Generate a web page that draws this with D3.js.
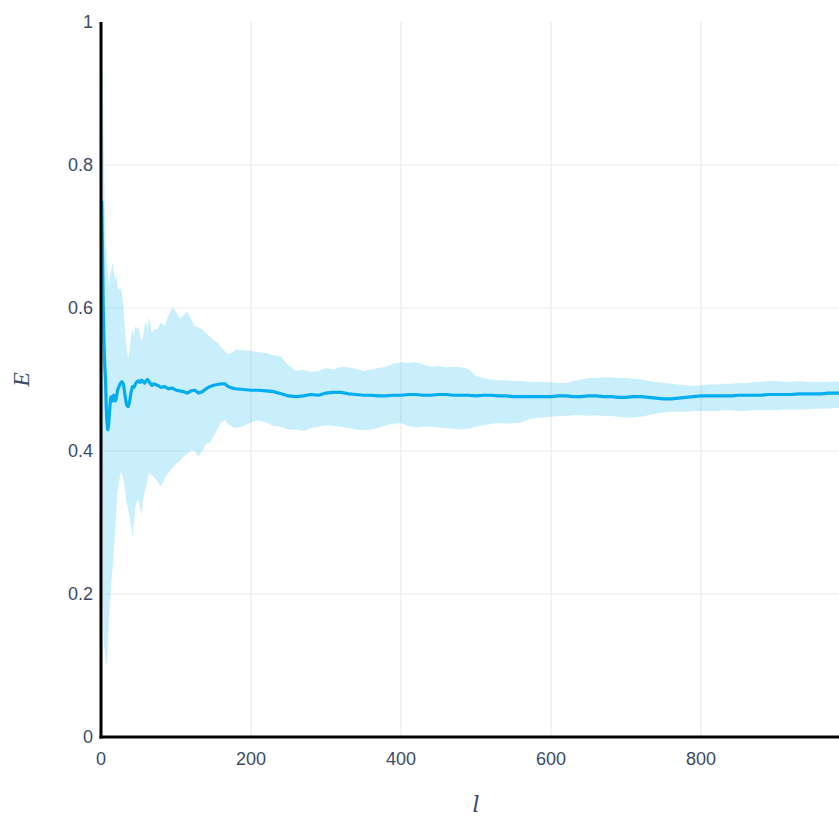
<!DOCTYPE html>
<html>
<head>
<meta charset="utf-8">
<script src="https://cdn.jsdelivr.net/npm/d3@7"></script>
<style>
  html, body { margin: 0; padding: 0; background: #fff; overflow: hidden; }
  svg { display: block; }
</style>
</head>
<body>
<svg id="chart" width="839" height="817"></svg>
<script>
// Sample sizes l and the running estimate E with its spread band
const lValues = [1, 2, 3, 4, 5, 6, 7, 8, 9, 10, 11, 12, 13, 14, 15, 16, 17, 18, 19, 20,
  21, 22, 24, 26, 28, 30, 32, 34, 36, 38, 40, 42, 44, 46, 48, 50, 52, 54, 56, 58,
  60, 62, 64, 66, 68, 70, 75, 80, 85, 90, 95, 100, 105, 110, 115, 120, 125, 130, 135, 140,
  145, 150, 155, 160, 165, 170, 175, 180, 190, 200, 210, 220, 230, 240, 250, 260, 270, 280, 290,
  300, 310, 320, 330, 340, 350, 360, 370, 380, 390, 400, 410, 420, 430, 440, 450, 460, 470, 480, 490,
  500, 510, 520, 530, 540, 550, 560, 570, 580, 590, 600, 610, 620, 630, 640, 650, 660, 670, 680, 690,
  700, 710, 720, 730, 740, 750, 760, 770, 780, 790, 800, 810, 820, 830, 840, 850, 860, 870, 880, 890,
  900, 910, 920, 930, 940, 950, 960, 970, 980, 990, 1000];

const meanE = [0.75, 0.68, 0.60, 0.55, 0.52, 0.50, 0.46, 0.44, 0.43, 0.435, 0.45, 0.465, 0.475, 0.476, 0.47, 0.472, 0.478, 0.475, 0.47, 0.472,
  0.478, 0.485, 0.49, 0.495, 0.497, 0.493, 0.478, 0.465, 0.462, 0.468, 0.482, 0.49, 0.489, 0.494, 0.497, 0.498, 0.496, 0.499, 0.497, 0.495,
  0.498, 0.5, 0.497, 0.494, 0.492, 0.494, 0.492, 0.489, 0.49, 0.487, 0.488, 0.485, 0.484, 0.483, 0.481, 0.484, 0.485, 0.481, 0.483, 0.487,
  0.49, 0.492, 0.493, 0.494, 0.494, 0.49, 0.488, 0.487, 0.486, 0.485, 0.485, 0.484, 0.483, 0.48, 0.477, 0.476, 0.477, 0.479, 0.478,
  0.481, 0.482, 0.482, 0.480, 0.479, 0.478, 0.478, 0.477, 0.477, 0.478, 0.478, 0.479, 0.479, 0.478, 0.478, 0.479, 0.479, 0.478, 0.478, 0.478,
  0.477, 0.478, 0.478, 0.477, 0.477, 0.476, 0.476, 0.476, 0.476, 0.476, 0.476, 0.477, 0.477, 0.476, 0.476, 0.477, 0.477, 0.476, 0.476, 0.475,
  0.475, 0.476, 0.476, 0.475, 0.474, 0.473, 0.473, 0.474, 0.475, 0.476, 0.477, 0.477, 0.477, 0.477, 0.477, 0.478, 0.478, 0.478, 0.478, 0.479,
  0.479, 0.479, 0.479, 0.480, 0.480, 0.480, 0.480, 0.481, 0.481, 0.481, 0.481];

const upperE = [1.0, 0.95, 0.88, 0.80, 0.74, 0.70, 0.68, 0.66, 0.645, 0.64, 0.63, 0.645, 0.65, 0.655, 0.66, 0.665, 0.65, 0.645, 0.64, 0.64,
  0.645, 0.63, 0.625, 0.628, 0.62, 0.60, 0.57, 0.545, 0.53, 0.54, 0.56, 0.57, 0.56, 0.575, 0.57, 0.575, 0.56, 0.555, 0.56, 0.575,
  0.58, 0.57, 0.588, 0.575, 0.565, 0.57, 0.57, 0.58, 0.575, 0.59, 0.60, 0.595, 0.585, 0.59, 0.595, 0.585, 0.575, 0.573, 0.57, 0.565,
  0.56, 0.555, 0.552, 0.545, 0.54, 0.535, 0.538, 0.542, 0.541, 0.54, 0.538, 0.537, 0.534, 0.532, 0.52, 0.512, 0.514, 0.51, 0.512,
  0.516, 0.514, 0.518, 0.517, 0.515, 0.512, 0.514, 0.516, 0.518, 0.522, 0.524, 0.523, 0.524, 0.521, 0.518, 0.519, 0.517, 0.518, 0.517, 0.515,
  0.505, 0.502, 0.500, 0.499, 0.499, 0.498, 0.498, 0.497, 0.497, 0.496, 0.496, 0.495, 0.495, 0.498, 0.500, 0.502, 0.502, 0.503, 0.503, 0.502,
  0.502, 0.501, 0.500, 0.498, 0.496, 0.495, 0.494, 0.493, 0.492, 0.491, 0.492, 0.493, 0.493, 0.494, 0.494, 0.495, 0.495, 0.496, 0.497, 0.498,
  0.498, 0.497, 0.497, 0.498, 0.497, 0.496, 0.497, 0.497, 0.497, 0.498, 0.498];

const lowerE = [0.5, 0.3, 0.15, 0.13, 0.12, 0.11, 0.10, 0.105, 0.13, 0.15, 0.17, 0.19, 0.2, 0.22, 0.23, 0.24, 0.26, 0.276, 0.29, 0.31,
  0.33, 0.345, 0.355, 0.37, 0.368, 0.36, 0.345, 0.327, 0.32, 0.308, 0.295, 0.28, 0.30, 0.322, 0.33, 0.331, 0.32, 0.31, 0.33, 0.341,
  0.35, 0.36, 0.369, 0.368, 0.365, 0.364, 0.358, 0.35, 0.362, 0.37, 0.376, 0.382, 0.386, 0.392, 0.396, 0.401, 0.40, 0.392, 0.40, 0.41,
  0.412, 0.42, 0.43, 0.44, 0.443, 0.437, 0.434, 0.432, 0.435, 0.44, 0.443, 0.44, 0.435, 0.434, 0.43, 0.43, 0.428, 0.432, 0.434,
  0.436, 0.435, 0.434, 0.432, 0.430, 0.429, 0.430, 0.432, 0.436, 0.438, 0.439, 0.435, 0.433, 0.434, 0.434, 0.433, 0.432, 0.431, 0.430, 0.431,
  0.434, 0.436, 0.438, 0.439, 0.438, 0.439, 0.440, 0.444, 0.446, 0.447, 0.448, 0.449, 0.449, 0.450, 0.450, 0.449, 0.450, 0.449, 0.449, 0.448,
  0.447, 0.447, 0.448, 0.450, 0.452, 0.454, 0.455, 0.455, 0.455, 0.456, 0.456, 0.456, 0.456, 0.457, 0.457, 0.456, 0.456, 0.457, 0.457, 0.457,
  0.457, 0.458, 0.458, 0.458, 0.458, 0.459, 0.459, 0.459, 0.460, 0.460, 0.460];

// Tick labels on screen; the l axis runs on to 1000 past the right edge
const xTicks = [0, 200, 400, 600, 800];
const yTicks = [0, 0.2, 0.4, 0.6, 0.8, 1];
const xTitle = "l";
const yTitle = "E";

const points = lValues.map((l, i) => ({ l, mean: meanE[i], hi: upperE[i], lo: lowerE[i] }));

const svg = d3.select("#chart");
const margin = { left: 101, top: 22, right: 851, bottom: 737 };

const x = d3.scaleLinear().domain([0, 1000]).range([margin.left, margin.right]);
const y = d3.scaleLinear().domain([0, 1]).range([margin.bottom, margin.top]);

const tickColor = "#3a4a68";
const tickFont = "'Liberation Sans', Arial, sans-serif";

// Grid
const grid = svg.append("g");
grid.selectAll("line.gx").data(xTicks.filter(d => d > 0)).join("line")
  .attr("x1", d => x(d)).attr("x2", d => x(d))
  .attr("y1", y(1)).attr("y2", y(0))
  .attr("stroke", "#ebebeb").attr("stroke-width", 1.2);
grid.selectAll("line.gy").data(yTicks.filter(d => d > 0 && d < 1)).join("line")
  .attr("x1", x(0)).attr("x2", x(1000))
  .attr("y1", d => y(d)).attr("y2", d => y(d))
  .attr("stroke", "#ebebeb").attr("stroke-width", 1.2);

// Clip region for the plot
svg.append("clipPath").attr("id", "plotclip").append("rect")
  .attr("x", x(0)).attr("y", y(1)).attr("width", x(1000) - x(0)).attr("height", y(0) - y(1));

const plot = svg.append("g").attr("clip-path", "url(#plotclip)");

// Spread band
const band = d3.area()
  .x(d => x(d.l))
  .y0(d => y(d.lo))
  .y1(d => y(d.hi));
plot.append("path").datum(points)
  .attr("d", band)
  .attr("fill", "rgba(0, 176, 242, 0.21)")
  .attr("stroke", "none");

// Mean line
const line = d3.line().x(d => x(d.l)).y(d => y(d.mean));
plot.append("path").datum(points)
  .attr("d", line)
  .attr("fill", "none")
  .attr("stroke", "#00adf0")
  .attr("stroke-width", 3.2)
  .attr("stroke-linejoin", "round");

// Axis lines
svg.append("line")
  .attr("x1", x(0)).attr("x2", x(0))
  .attr("y1", y(1)).attr("y2", y(0) + 1.5)
  .attr("stroke", "#000").attr("stroke-width", 3);
svg.append("line")
  .attr("x1", x(0) - 1.5).attr("x2", x(1000))
  .attr("y1", y(0)).attr("y2", y(0))
  .attr("stroke", "#000").attr("stroke-width", 3);

// Tick labels
const fmt = d => d3.format("~g")(d);
svg.append("g").selectAll("text").data(xTicks).join("text")
  .attr("x", d => x(d)).attr("y", y(0) + 28)
  .attr("text-anchor", "middle")
  .attr("font-family", tickFont).attr("font-size", 18)
  .attr("fill", tickColor)
  .text(fmt);
svg.append("g").selectAll("text").data(yTicks).join("text")
  .attr("x", x(0) - 8).attr("y", d => y(d))
  .attr("dy", "0.35em")
  .attr("text-anchor", "end")
  .attr("font-family", tickFont).attr("font-size", 18)
  .attr("fill", tickColor)
  .text(fmt);

// Axis titles
svg.append("text")
  .attr("x", x(500)).attr("y", 812)
  .attr("text-anchor", "middle")
  .attr("font-family", "'DejaVu Serif', 'Liberation Serif', serif")
  .attr("font-style", "italic")
  .attr("font-size", 22)
  .attr("fill", tickColor)
  .text(xTitle);
svg.append("text")
  .attr("transform", `translate(29, ${(y(0) + y(1)) / 2}) rotate(-90)`)
  .attr("text-anchor", "middle")
  .attr("font-family", "'Liberation Serif', 'DejaVu Serif', serif")
  .attr("font-style", "italic")
  .attr("font-size", 24)
  .attr("fill", tickColor)
  .text(yTitle);
</script>
</body>
</html>
